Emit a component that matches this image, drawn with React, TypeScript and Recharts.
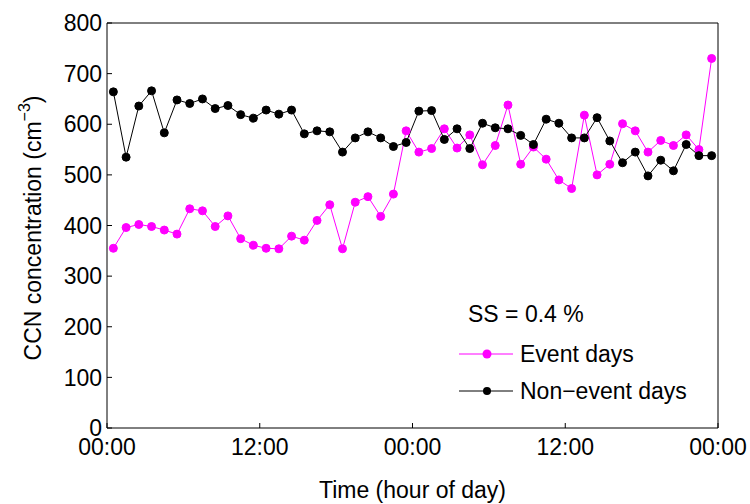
import React from 'react';
import { LineChart, Line, XAxis, YAxis, Legend } from 'recharts';

// hour since start of the 2-day window (hourly means)
const hours = [
  0.5, 1.5, 2.5, 3.5, 4.5, 5.5, 6.5, 7.5, 8.5, 9.5, 10.5, 11.5,
  12.5, 13.5, 14.5, 15.5, 16.5, 17.5, 18.5, 19.5, 20.5, 21.5, 22.5, 23.5,
  24.5, 25.5, 26.5, 27.5, 28.5, 29.5, 30.5, 31.5, 32.5, 33.5, 34.5, 35.5,
  36.5, 37.5, 38.5, 39.5, 40.5, 41.5, 42.5, 43.5, 44.5, 45.5, 46.5, 47.5,
];

const eventDays = [
  355, 396, 402, 398, 391, 383, 433, 429, 398, 419, 374, 361,
  355, 354, 379, 371, 410, 441, 354, 446, 457, 418, 462, 587,
  545, 552, 591, 553, 579, 520, 558, 638, 521, 555, 531, 490,
  473, 618, 500, 521, 601, 587, 545, 568, 558, 579, 550, 730,
];

const nonEventDays = [
  664, 535, 636, 666, 583, 648, 641, 650, 631, 637, 619, 612,
  628, 620, 628, 581, 587, 585, 545, 573, 585, 573, 556, 564,
  626, 627, 570, 591, 552, 602, 593, 591, 578, 560, 610, 602,
  573, 573, 613, 567, 524, 545, 498, 529, 508, 560, 538, 538,
];

const xTicks = [0, 12, 24, 36, 48];
const xTickLabels = ['00:00', '12:00', '00:00', '12:00', '00:00'];
const yTicks = [0, 100, 200, 300, 400, 500, 600, 700, 800];

const seriesNames = ['Event days', 'Non\u2212event days'];
const seriesColors = ['#ff00ff', '#000000'];
const noteText = 'SS = 0.4 %';

const font = '"Liberation Sans", Arial, Helvetica, sans-serif';
const fs = 23;

const data = hours.map((h, i) => ({
  hour: h,
  event: eventDays[i],
  nonEvent: nonEventDays[i],
}));

const renderYLabel = () => (
  <text
    x={33}
    y={228}
    transform="rotate(-90 33 228)"
    textAnchor="middle"
    dominantBaseline="central"
    fontSize={fs}
    fontFamily={font}
    fill="#000"
  >
    CCN concentration (cm
    <tspan dy={-9} fontSize={16}>{'\u22123'}</tspan>
    <tspan dy={9}>)</tspan>
  </text>
);

const renderLegend = () => (
  <svg width={290} height={120} style={{ display: 'block', overflow: 'visible' }}>
    <text x={18} y={22} dominantBaseline="central" fontSize={fs} fontFamily={font} fill="#000">
      {noteText}
    </text>
    {seriesNames.map((name, i) => {
      const cy = 62 + i * 37;
      return (
        <g key={name}>
          <line x1={9} x2={63} y1={cy} y2={cy} stroke={seriesColors[i]} strokeWidth={1} />
          <circle cx={37} cy={cy} r={i === 0 ? 4.5 : 4} fill={seriesColors[i]} />
          <text x={70} y={cy} dominantBaseline="central" fontSize={fs} fontFamily={font} fill="#000">
            {name}
          </text>
        </g>
      );
    })}
  </svg>
);

export default function App() {
  return (
    <div style={{ position: 'absolute', left: 0, top: 0, width: 750, height: 504, background: '#fff' }}>
      <LineChart
        width={750}
        height={504}
        data={data}
        margin={{ top: 22, right: 31, bottom: 6, left: 47 }}
        style={{ fontFamily: font }}
      >
        <XAxis
          dataKey="hour"
          type="number"
          domain={[0, 48]}
          ticks={xTicks}
          tickFormatter={(v: number) => xTickLabels[xTicks.indexOf(v)]}
          height={70}
          tickSize={-5}
          tickMargin={16}
          stroke="#000"
          tick={{ fill: '#000', fontSize: fs, fontFamily: font }}
          label={{ value: 'Time (hour of day)', position: 'insideBottom', offset: 0, fill: '#000', fontSize: fs, fontFamily: font }}
        />
        <XAxis
          xAxisId="top"
          orientation="top"
          dataKey="hour"
          type="number"
          domain={[0, 48]}
          ticks={xTicks}
          height={1}
          tickSize={-5}
          tick={false}
          stroke="#000"
        />
        <YAxis
          type="number"
          domain={[0, 800]}
          ticks={yTicks}
          width={60}
          tickSize={-5}
          tickMargin={10}
          stroke="#000"
          tick={{ fill: '#000', fontSize: fs, fontFamily: font }}
          label={renderYLabel}
        />
        <YAxis
          yAxisId="right"
          orientation="right"
          type="number"
          domain={[0, 800]}
          ticks={yTicks}
          width={1}
          tickSize={-5}
          tick={false}
          stroke="#000"
        />
        <Legend
          layout="vertical"
          align="center"
          verticalAlign="middle"
          content={renderLegend}
          wrapperStyle={{ left: 450, top: 292, width: 290, height: 120 }}
        />
        <Line
          dataKey="event"
          name={seriesNames[0]}
          stroke={seriesColors[0]}
          strokeWidth={1}
          dot={{ r: 4, fill: seriesColors[0], stroke: seriesColors[0], strokeWidth: 1 }}
          activeDot={false}
          isAnimationActive={false}
        />
        <Line
          dataKey="nonEvent"
          name={seriesNames[1]}
          stroke={seriesColors[1]}
          strokeWidth={1}
          dot={{ r: 4, fill: seriesColors[1], stroke: seriesColors[1], strokeWidth: 1 }}
          activeDot={false}
          isAnimationActive={false}
        />
      </LineChart>
    </div>
  );
}
